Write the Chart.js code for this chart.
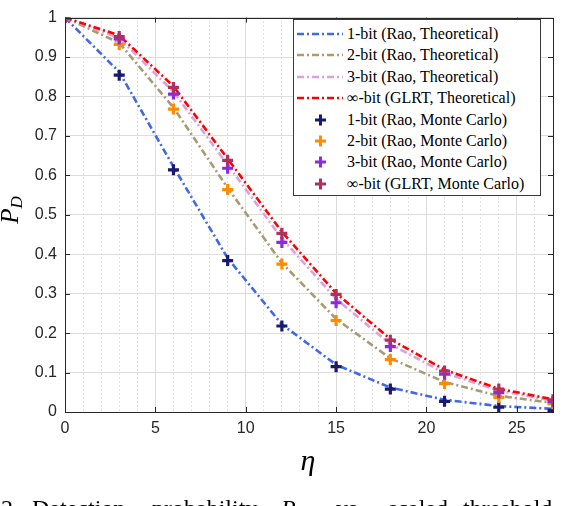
<!DOCTYPE html>
<html lang="en">
<head>
    <meta charset="UTF-8">
    <title>Detection probability</title>
    <script src="https://cdn.jsdelivr.net/npm/chart.js"></script>
    <style>
        body {
            margin: 0;
            padding: 0;
            background: #fff;
        }
        .wrap {
            position: relative;
            width: 580px;
            height: 506px;
            overflow: hidden;
        }
        canvas {
            position: absolute;
            left: 0;
            top: 0;
        }
        .ylabel {
            position: absolute;
            left: -12px;
            top: 196px;
            width: 44px;
            height: 28px;
            transform: rotate(-90deg);
            font: italic 25px "Liberation Serif", serif;
            line-height: 28px;
            color: #000;
            text-align: center;
        }
        .ylabel sub {
            font-size: 17px;
            vertical-align: -4px;
        }
        .xlabel {
            position: absolute;
            left: 288px;
            top: 445px;
            width: 40px;
            text-align: center;
            font: italic 30px "Liberation Serif", serif;
            line-height: 30px;
            color: #000;
        }
        .caption span {
            position: absolute;
            top: 496px;
            white-space: nowrap;
            font: 24px "Liberation Serif", serif;
            line-height: 24px;
            color: #000;
        }
        .caption sub {
            font-size: 17px;
        }
        .legend {
            position: absolute;
            left: 293px;
            top: 19px;
            width: 246px;
            height: 172px;
            border: 1px solid #3a3a3a;
            background: #fff;
            padding-top: 3px;
            box-sizing: content-box;
            font: 16px "Liberation Serif", serif;
            color: #000;
        }
        .legend .row {
            position: relative;
            height: 21.4px;
            line-height: 21.4px;
            white-space: nowrap;
        }
        .legend svg {
            position: absolute;
            left: 3px;
            top: 5px;
        }
        .legend .txt {
            position: absolute;
            left: 53px;
            top: 0;
        }
    </style>
</head>
<body>
<div class="wrap">
    <canvas id="pdChart" width="580" height="506"></canvas>
    <div class="ylabel"><i>P<sub>D</sub></i></div>
    <div class="xlabel">η</div>
    <div class="legend" id="legend"></div>
    <div class="caption">
        <span style="left:1px">2.</span>
        <span style="left:32px">Detection</span>
        <span style="left:152px">probability</span>
        <span style="left:281px"><i>P<sub>D</sub></i></span>
        <span style="left:336px">vs.</span>
        <span style="left:388px">scaled</span>
        <span style="left:463px">threshold</span>
    </div>
</div>

<script>
    // scaled threshold values
    const eta = [0, 3, 6, 9, 12, 15, 18, 21, 24, 27];

    // theoretical curves
    const rao1Theory = [1, 0.862, 0.622, 0.390, 0.222, 0.120, 0.062, 0.031, 0.015, 0.008];
    const rao2Theory = [1, 0.936, 0.772, 0.568, 0.378, 0.236, 0.136, 0.076, 0.041, 0.023];
    const rao3Theory = [1, 0.948, 0.812, 0.627, 0.440, 0.287, 0.172, 0.099, 0.054, 0.029];
    const glrtTheory = [1, 0.955, 0.826, 0.642, 0.457, 0.301, 0.185, 0.107, 0.059, 0.032];

    // monte carlo points
    const rao1MC = [1, 0.854, 0.614, 0.384, 0.218, 0.115, 0.058, 0.027, 0.012, 0.004];
    const rao2MC = [1, 0.932, 0.768, 0.564, 0.375, 0.232, 0.133, 0.072, 0.037, 0.021];
    const rao3MC = [1, 0.946, 0.806, 0.618, 0.430, 0.277, 0.166, 0.096, 0.049, 0.026];
    const glrtMC = [1, 0.952, 0.823, 0.638, 0.453, 0.298, 0.182, 0.104, 0.058, 0.031];

    const xTicks = [0, 5, 10, 15, 20, 25];
    const yTicks = [0, 0.1, 0.2, 0.3, 0.4, 0.5, 0.6, 0.7, 0.8, 0.9, 1];

    const seriesLabels = [
        '1-bit (Rao, Theoretical)',
        '2-bit (Rao, Theoretical)',
        '3-bit (Rao, Theoretical)',
        '∞-bit (GLRT, Theoretical)',
        '1-bit (Rao, Monte Carlo)',
        '2-bit (Rao, Monte Carlo)',
        '3-bit (Rao, Monte Carlo)',
        '∞-bit (GLRT, Monte Carlo)'
    ];
    const seriesColors = ['#4169e1', '#a89a72', '#dda0dd', '#ff0000', '#191970', '#ff8c00', '#8a2be2', '#b03060'];
    const seriesData = [rao1Theory, rao2Theory, rao3Theory, glrtTheory, rao1MC, rao2MC, rao3MC, glrtMC];

    const dashDot = [7, 3, 2, 3];
    const axisColor = '#262626';

    function toPoints(ys) {
        return eta.map((x, i) => ({ x: x, y: ys[i] }));
    }

    const datasets = seriesData.map((ys, i) => {
        const isLine = i < 4;
        return {
            label: seriesLabels[i],
            data: toPoints(ys),
            borderColor: seriesColors[i],
            backgroundColor: seriesColors[i],
            showLine: isLine,
            borderWidth: isLine ? 2.6 : 3,
            borderDash: isLine ? dashDot : [],
            pointRadius: isLine ? 0 : 5.5,
            pointStyle: 'cross',
            pointBorderWidth: 3.2,
            pointHoverRadius: isLine ? 0 : 5.5,
            tension: 0,
            order: 8 - i // later series sit on top
        };
    });

    // box round the axes plus the inward tick marks
    const boxPlugin = {
        id: 'box',
        afterDatasetsDraw(chart) {
            const { ctx, chartArea: a, scales } = chart;
            ctx.save();
            ctx.strokeStyle = axisColor;
            ctx.lineWidth = 1;
            ctx.beginPath();
            xTicks.forEach(v => {
                const px = Math.round(scales.x.getPixelForValue(v)) + 0.5;
                ctx.moveTo(px, a.bottom); ctx.lineTo(px, a.bottom - 5);
                ctx.moveTo(px, a.top); ctx.lineTo(px, a.top + 5);
            });
            yTicks.forEach(v => {
                const py = Math.round(scales.y.getPixelForValue(v)) + 0.5;
                ctx.moveTo(a.left, py); ctx.lineTo(a.left + 5, py);
                ctx.moveTo(a.right, py); ctx.lineTo(a.right - 5, py);
            });
            ctx.stroke();
            ctx.strokeRect(Math.round(a.left) + 0.5, Math.round(a.top) + 0.5,
                Math.round(a.right - a.left), Math.round(a.bottom - a.top));
            ctx.restore();
        }
    };

    new Chart(document.getElementById('pdChart').getContext('2d'), {
        type: 'scatter',
        data: { datasets: datasets },
        options: {
            responsive: false,
            animation: false,
            layout: { padding: { top: 6, right: 27, left: 0, bottom: 0 } },
            plugins: {
                legend: { display: false },
                tooltip: { enabled: false }
            },
            scales: {
                x: {
                    type: 'linear',
                    min: 0,
                    max: 27,
                    afterFit: s => { s.height = 94; },
                    afterBuildTicks: s => {
                        s.ticks = [];
                        for (let v = 0; v <= 27; v++) s.ticks.push({ value: v });
                    },
                    ticks: {
                        autoSkip: false,
                        maxRotation: 0,
                        padding: 7,
                        color: axisColor,
                        font: { family: '"Liberation Sans", Arial, sans-serif', size: 16 },
                        callback: v => (xTicks.includes(v) ? String(v) : '')
                    },
                    grid: {
                        drawTicks: false,
                        lineWidth: 1,
                        color: c => (c.tick && xTicks.includes(c.tick.value) ? '#dcdcdc' : '#c4c4c4')
                    },
                    border: {
                        color: axisColor,
                        dash: c => (c.tick && !xTicks.includes(c.tick.value) ? [1, 3] : [])
                    }
                },
                y: {
                    min: 0,
                    max: 1,
                    afterFit: s => { s.width = 65; },
                    afterBuildTicks: s => { s.ticks = yTicks.map(v => ({ value: v })); },
                    ticks: {
                        padding: 8,
                        color: axisColor,
                        font: { family: '"Liberation Sans", Arial, sans-serif', size: 16 },
                        callback: v => String(Number(v.toFixed(1)))
                    },
                    grid: {
                        drawTicks: false,
                        lineWidth: 1,
                        color: '#dcdcdc'
                    },
                    border: { color: axisColor }
                }
            }
        },
        plugins: [boxPlugin]
    });

    // legend inside the axes
    const legendBox = document.getElementById('legend');
    seriesLabels.forEach((label, i) => {
        const row = document.createElement('div');
        row.className = 'row';
        let mark;
        if (i < 4) {
            mark = '<svg width="46" height="12"><line x1="0" y1="6" x2="46" y2="6" stroke="' + seriesColors[i] +
                '" stroke-width="2.6" stroke-dasharray="' + dashDot.join(' ') + '"/></svg>';
        } else {
            mark = '<svg width="46" height="12"><path d="M18 6 H29 M23.5 0.5 V11.5" stroke="' + seriesColors[i] +
                '" stroke-width="3" fill="none"/></svg>';
        }
        row.innerHTML = mark + '<span class="txt">' + label + '</span>';
        legendBox.appendChild(row);
    });
</script>
</body>
</html>
